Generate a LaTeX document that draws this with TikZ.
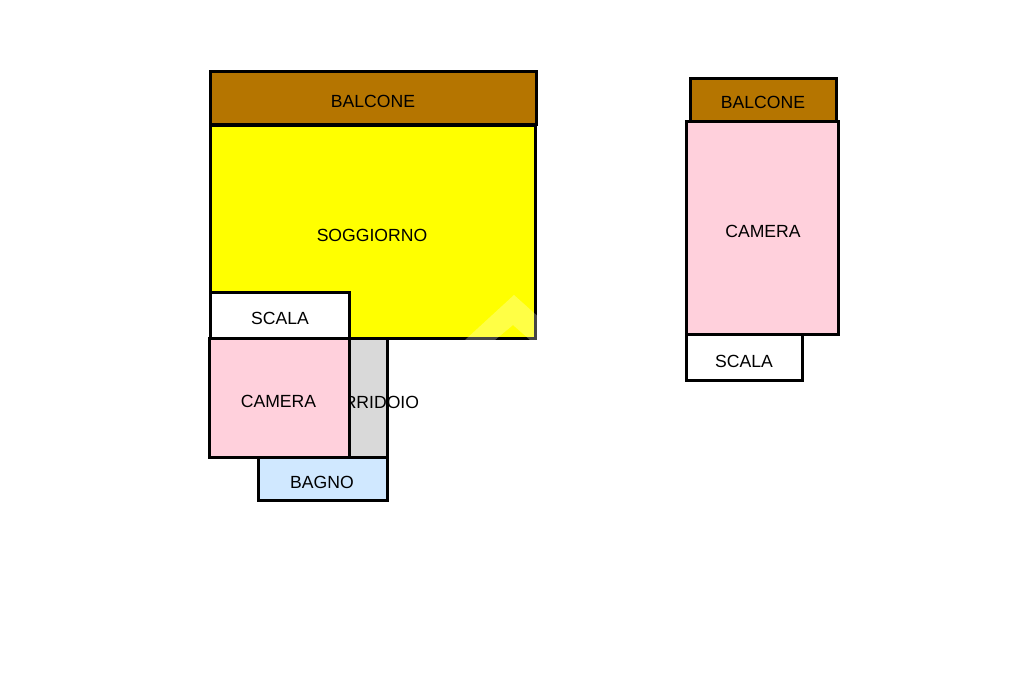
\documentclass[tikz,border=0pt]{standalone}
\usepackage{fontspec}
\setmainfont{Liberation Sans}
\definecolor{balc}{RGB}{181,117,0}
\definecolor{sogg}{RGB}{255,255,0}
\definecolor{cam}{RGB}{255,208,220}
\definecolor{corr}{RGB}{217,217,217}
\definecolor{bagn}{RGB}{208,232,255}
\tikzset{
  room/.style={draw=black,line width=3pt,line join=miter},
  lbl/.style={font=\fontsize{17.6}{20}\selectfont,text=black,inner sep=0pt}
}
\begin{document}
\begin{tikzpicture}[x=1pt,y=-1pt]
\useasboundingbox (0,0) rectangle (1024,682);
\fill[white] (0,0) rectangle (1024,682);
% left unit
\draw[room,fill=balc] (210.5,71.5) rectangle (536,124.5);
\node[lbl] (balcone1) at (373,101) {BALCONE};
\draw[room,fill=sogg] (210.5,125) rectangle (535.5,338);
\node[lbl] (soggiorno) at (372,235) {SOGGIORNO};
\draw[room,fill=corr] (349.5,338) rectangle (387,457.5);
\node[lbl] (corridoio) at (368.2,402) {CORRIDOIO};
\draw[room,fill=white] (210.5,292.5) rectangle (349.5,338);
\node[lbl] (scala1) at (280,318) {SCALA};
\draw[room,fill=cam] (209.5,338) rectangle (349.5,457.5);
\node[lbl] (camera1) at (278.5,401) {CAMERA};
\draw[room,fill=bagn] (258,457.5) rectangle (387,500);
\node[lbl] (bagno) at (322,482) {BAGNO};
% right unit
\draw[room,fill=balc] (690.5,78.5) rectangle (836.5,121);
\node[lbl] (balcone2) at (763,102) {BALCONE};
\draw[room,fill=cam] (686.5,121.5) rectangle (838.5,334);
\node[lbl] (camera2) at (763,231) {CAMERA};
\draw[room,fill=white] (686.5,334) rectangle (802.5,380.5);
\node[lbl] (scala2) at (744,361) {SCALA};
% watermark
\fill[white,opacity=.27] (465,340) -- (514,295) -- (537.5,316) -- (537.5,340) -- (530,340) -- (513,325) -- (495,340) -- cycle;
\end{tikzpicture}
\end{document}
